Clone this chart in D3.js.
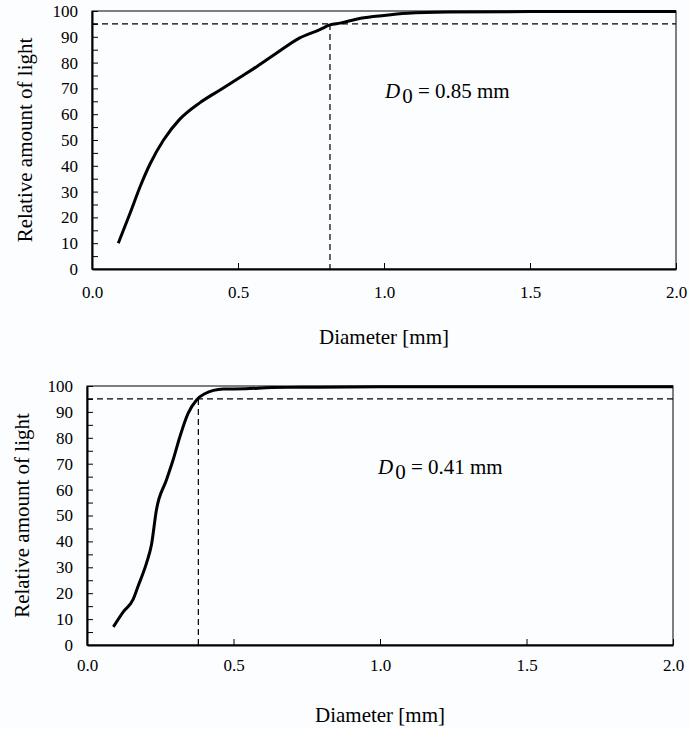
<!DOCTYPE html>
<html>
<head>
<meta charset="utf-8">
<script src="https://cdn.jsdelivr.net/npm/d3@7"></script>
</head>
<body style="margin:0">
<svg id="chart" width="690" height="729"></svg>
<script>
// upper panel: coarse sample
const topDiam  = [0.09, 0.13, 0.165, 0.20, 0.245, 0.30, 0.37, 0.44, 0.51, 0.565, 0.63, 0.71, 0.78, 0.815, 0.85, 0.92, 1.0, 1.08, 1.22, 1.5, 2.0];
const topLight = [10, 21.5, 32, 41, 50, 58, 64.5, 69.5, 74.5, 78.5, 83.5, 89.5, 92.8, 94.6, 95.3, 97.2, 98.3, 99.1, 99.6, 99.8, 99.8];

// lower panel: fine sample
const botDiam  = [0.09, 0.125, 0.157, 0.174, 0.203, 0.22, 0.237, 0.271, 0.294, 0.317, 0.345, 0.374, 0.40, 0.465, 0.54, 0.63, 0.73, 1.0, 1.5, 2.0];
const botLight = [7, 13, 17.5, 22.6, 31.6, 38.7, 52.2, 63.7, 71.5, 80.4, 89.4, 94.6, 96.9, 98.8, 98.9, 99.4, 99.5, 99.7, 99.7, 99.7];

const d0Values  = [0.85, 0.41];      // label in each panel
const cutDiam   = [0.815, 0.38];     // where the dashed line drops
const cutLight  = 95;
const xTicks    = [0, 0.5, 1.0, 1.5, 2.0];
const yTicks    = d3.range(0, 101, 5);
const xTitle    = 'Diameter [mm]';
const yTitle    = 'Relative amount of light';

const FONT = 'Liberation Serif';
const svg = d3.select('#chart');

svg.append('rect').attr('width', 690).attr('height', 729).attr('fill', '#fbfdfe');

function drawPanel(p) {
  const x = d3.scaleLinear().domain([0, 2]).range([p.left, p.right]);
  const y = d3.scaleLinear().domain([0, 100]).range([p.bottom, p.top]);
  const g = svg.append('g');

  // thin frame (top / right)
  g.append('rect')
    .attr('x', p.left).attr('y', p.top)
    .attr('width', p.right - p.left).attr('height', p.bottom - p.top)
    .attr('fill', 'none').attr('stroke', '#000').attr('stroke-width', 1);

  const ya = g.append('g')
    .attr('transform', 'translate(' + p.left + ',0)')
    .call(d3.axisLeft(y).tickValues(yTicks).tickSizeInner(-6).tickSizeOuter(0).tickPadding(14)
      .tickFormat((d) => d % 10 === 0 ? d : ''));

  const xa = g.append('g')
    .attr('transform', 'translate(0,' + p.bottom + ')')
    .call(d3.axisBottom(x).tickValues(xTicks).tickSizeInner(-6).tickSizeOuter(0).tickPadding(p.xPad)
      .tickFormat(d3.format('.1f')));

  ya.attr('font-family', null).attr('font-size', null);
  xa.attr('font-family', null).attr('font-size', null);
  g.selectAll('.tick text').attr('font-size', 17).attr('fill', '#000');
  g.selectAll('.domain').attr('stroke-width', 2);
  g.selectAll('.tick line').attr('stroke-width', 1);

  // dashed guides
  g.append('line')
    .attr('x1', p.left).attr('x2', p.right)
    .attr('y1', y(cutLight)).attr('y2', y(cutLight))
    .attr('stroke', '#000').attr('stroke-width', 1.2).attr('stroke-dasharray', '6,4');
  g.append('line')
    .attr('x1', x(p.cut)).attr('x2', x(p.cut))
    .attr('y1', y(cutLight)).attr('y2', p.bottom)
    .attr('stroke', '#000').attr('stroke-width', 1.2).attr('stroke-dasharray', '6,4');

  const line = d3.line()
    .x((d, i) => x(p.diam[i]))
    .y((d) => y(d))
    .curve(d3.curveMonotoneX);
  g.append('path')
    .datum(p.light)
    .attr('d', line)
    .attr('fill', 'none')
    .attr('stroke', '#000')
    .attr('stroke-width', 3)
    .attr('stroke-linejoin', 'round');

  // D0 label
  const lbl = g.append('text')
    .attr('x', p.lblX).attr('y', p.lblY)
    .attr('font-size', 21);
  lbl.append('tspan').attr('font-style', 'italic').text('D');
  lbl.append('tspan').attr('dx', 2).attr('dy', 5).text('0');
  lbl.append('tspan').attr('dy', -5).text(' = ' + p.d0.toFixed(2) + ' mm');

  g.append('text')
    .attr('x', (p.left + p.right) / 2).attr('y', p.xTitleY)
    .attr('text-anchor', 'middle')
    .attr('font-size', 21)
    .text(xTitle);

  g.append('text')
    .attr('transform', 'translate(' + p.yTitleX + ',' + (p.top + p.bottom) / 2 + ') rotate(-90)')
    .attr('text-anchor', 'middle')
    .attr('font-size', 21)
    .text(yTitle);

  g.selectAll('text').attr('font-family', FONT).style('font-family', FONT);
}

drawPanel({
  left: 92, right: 676, top: 11, bottom: 269,
  diam: topDiam, light: topLight, cut: cutDiam[0], d0: d0Values[0],
  xPad: 17, lblX: 385, lblY: 98, xTitleY: 344, yTitleX: 32
});

drawPanel({
  left: 87, right: 673, top: 386, bottom: 645,
  diam: botDiam, light: botLight, cut: cutDiam[1], d0: d0Values[1],
  xPad: 14, lblX: 378, lblY: 474, xTitleY: 722, yTitleX: 29
});
</script>
</body>
</html>
